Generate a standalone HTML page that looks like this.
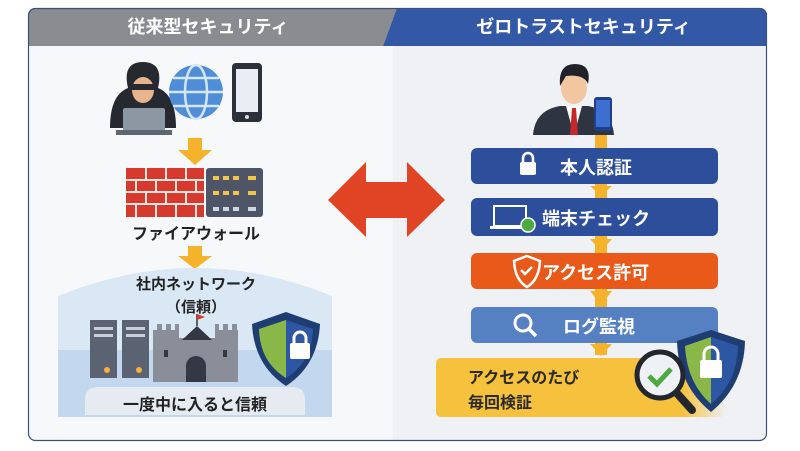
<!DOCTYPE html>
<html><head><meta charset="utf-8"><style>
body{margin:0;width:800px;height:451px;background:#fff;overflow:hidden;font-family:"Liberation Sans","Noto Sans CJK JP",sans-serif;}
.t{position:absolute;font-weight:bold;white-space:nowrap;}
</style></head><body>
<svg width="800" height="451" style="position:absolute;left:0;top:0">
<defs><clipPath id="c"><rect x="28" y="8" width="739" height="433" rx="7"/></clipPath>
<linearGradient id="yg" x1="0" x2="1"><stop offset="0" stop-color="#f6c13c"/><stop offset="0.85" stop-color="#f6c13c"/><stop offset="1" stop-color="#f6c13c" stop-opacity="0"/></linearGradient></defs>
<g clip-path="url(#c)">
<rect x="28" y="8" width="739" height="433" fill="#f7f8fa"/>
<rect x="393" y="46" width="374" height="395" fill="#eff1f5"/>
<polygon points="28,8 397,8 383,46 28,46" fill="#8b8c91"/>
<polygon points="397,8 767,8 767,46 383,46" fill="#3358a6"/>
</g>
<rect x="28.5" y="8.5" width="738" height="432" rx="7" fill="none" stroke="#3a4f7a" stroke-width="1.2"/>
<!-- hacker -->
<path d="M110,128 Q110,95 128,88 Q122,62 143,62 Q164,62 158,88 Q176,95 176,128Z" fill="#26292f"/>
<ellipse cx="143" cy="90" rx="11" ry="13" fill="#e8b48e"/>
<rect x="131" y="84" width="24" height="6" fill="#26292f"/>
<rect x="123" y="108" width="42" height="24" rx="2" fill="#8d96a3"/>
<rect x="116" y="130" width="56" height="5" fill="#5e6672"/>
<circle cx="196" cy="92" r="27" fill="#4f8ed6"/>
<g stroke="#d5e6f7" stroke-width="2.5" fill="none"><ellipse cx="196" cy="92" rx="11" ry="27"/><line x1="169" y1="92" x2="223" y2="92"/><path d="M173,78 H219 M173,106 H219"/></g>
<rect x="232" y="63" width="30" height="59" rx="4" fill="#2c3038"/>
<rect x="236" y="69" width="22" height="43" fill="#e9eef4"/>
<circle cx="247" cy="117" r="2" fill="#ddd"/>
<!-- arrows -->
<g fill="#f5b32c"><path d="M188,138h14v12h10l-17,15-17-15h10z"/><path d="M188,246h14v10h10l-17,13-17-13h10z"/></g>
<!-- wall -->
<rect x="126" y="168" width="78" height="49" fill="#d63a2e"/>
<g stroke="#f0e6e0" stroke-width="2"><path d="M126,180H204M126,192H204M126,204H204"/><path d="M146,168v12M166,168v12M186,168v12M136,180v12M156,180v12M176,180v12M196,180v12M146,192v12M166,192v12M186,192v12M136,204v13M156,204v13M176,204v13M196,204v13"/></g>
<rect x="206" y="168" width="57" height="49" rx="3" fill="#4e5566"/>
<g fill="#f2c44a"><rect x="213" y="176" width="6" height="4"/><rect x="223" y="176" width="6" height="4"/><rect x="233" y="176" width="6" height="4"/><rect x="248" y="176" width="8" height="4"/><rect x="213" y="191" width="6" height="4"/><rect x="223" y="191" width="6" height="4"/><rect x="233" y="191" width="6" height="4"/><rect x="248" y="191" width="8" height="4"/></g>
<g fill="#cfd6e2"><rect x="213" y="207" width="6" height="4"/><rect x="223" y="207" width="6" height="4"/><rect x="233" y="207" width="6" height="4"/><rect x="248" y="207" width="8" height="4"/></g>
<!-- network -->
<path d="M58,296 Q195,240 332,296 V410 Q332,417 325,417 H65 Q58,417 58,410Z" fill="#dae7f5"/>
<rect x="58" y="350" width="274" height="67" fill="#c3d7ee"/>
<path d="M85,415 V400 Q85,387 98,387 H292 Q305,387 305,400 V415Z" fill="#e6ebf2"/>
<rect x="90" y="320" width="27" height="58" fill="#5b6272"/><rect x="122" y="320" width="27" height="58" fill="#5b6272"/>
<g fill="#c9ced8"><rect x="94" y="327" width="19" height="3"/><rect x="94" y="334" width="19" height="3"/><rect x="126" y="327" width="19" height="3"/><rect x="126" y="334" width="19" height="3"/></g>
<circle cx="107" cy="370" r="3" fill="#f2b33b"/><circle cx="139" cy="370" r="3" fill="#f2b33b"/>
<!-- castle -->
<path d="M153,382V330h4v-6h5v6h4v-6h5v6h4v-6h4v14h36v-14h4v6h4v-6h5v6h4v-6h5v6h1v52z" fill="#8a8e98"/>
<path d="M182,340l15-14 15,14z" fill="#333844"/><line x1="197" y1="326" x2="197" y2="314" stroke="#333" stroke-width="1.5"/><path d="M197,314l8,3-8,3z" fill="#d63a2e"/>
<rect x="164" y="350" width="4" height="7" fill="#333844"/><rect x="223" y="350" width="4" height="7" fill="#333844"/>
<path d="M186,382v-16a10,10 0 0 1 20,0v16z" fill="#333844"/>
<path d="M286,312 L320,324 Q318,365 286,386 Q254,365 252,324Z" fill="#1e3d73"/>
<path d="M286,320 V378 Q260,362 259,329Z" fill="#8ab848"/><path d="M286,320 L313,329 Q312,362 286,378Z" fill="#2d56a3"/>
<rect x="290" y="343" width="20" height="16" rx="2" fill="#fff"/><path d="M294,343v-5a6,6 0 0 1 12,0v5" stroke="#fff" stroke-width="3" fill="none"/>
<!-- center arrow -->
<path d="M328,200 L366,162 V182 H407 V162 L445,200 L407,237 V218 H366 V237Z" fill="#e04424"/>
<!-- person -->
<path d="M533,135 Q535,110 560,106 H588 Q612,110 614,135Z" fill="#2f3540"/>
<path d="M566,106 l8,29 8,-29z" fill="#fff"/><path d="M572,108 h4 l2,27 h-8z" fill="#c7262a"/>
<ellipse cx="574" cy="88" rx="13" ry="16" fill="#f1c6a0"/>
<path d="M560,86 Q558,64 575,64 Q592,64 588,84 Q584,74 566,76Z" fill="#1f2228"/>
<rect x="594" y="97" width="18" height="34" rx="3" fill="#1f3f8a"/><rect x="596" y="100" width="14" height="27" fill="#3d6fd1"/>
<!-- right flow connectors -->
<rect x="595" y="135" width="12" height="220" fill="#f5b32c"/>
<g fill="#f5b32c"><path d="M590,186h22l-11,10z"/><path d="M590,239h22l-11,12z"/><path d="M590,291h22l-11,14z"/><path d="M590,344h22l-11,12z"/></g>
<rect x="471" y="148" width="247" height="36" rx="6" fill="#2d4f9b"/>
<rect x="471" y="198" width="247" height="38" rx="6" fill="#2d4f9b"/>
<rect x="471" y="253" width="247" height="36" rx="6" fill="#e8591a"/>
<rect x="471" y="307" width="247" height="36" rx="6" fill="#5580c2"/>
<rect x="436" y="358" width="290" height="59" rx="5" fill="url(#yg)"/>
<!-- icons -->
<rect x="520" y="162" width="16" height="13" rx="2" fill="#fff"/><path d="M523,162v-4a5,5 0 0 1 10,0v4" stroke="#fff" stroke-width="2.5" fill="none"/>
<rect x="494" y="206" width="32" height="20" fill="none" stroke="#fff" stroke-width="2"/><rect x="490" y="226" width="34" height="3" fill="#fff"/>
<circle cx="528" cy="225" r="7" fill="#4caa3e" stroke="#fff" stroke-width="1.5"/>
<path d="M527,256 L540,261 Q539,280 527,287 Q515,280 514,261Z" fill="none" stroke="#fff" stroke-width="2.5"/>
<path d="M521,270l4,4 7,-7" stroke="#fff" stroke-width="2.5" fill="none"/>
<circle cx="523" cy="323" r="8" fill="none" stroke="#fff" stroke-width="3"/><line x1="529" y1="329" x2="536" y2="336" stroke="#fff" stroke-width="3.5"/>
<!-- shield + magnifier -->
<path d="M711,330 L745,341 Q744,385 711,412 Q678,385 677,341Z" fill="#1e3d73"/>
<path d="M711,337 V404 Q687,383 685,346Z" fill="#8ab848"/><path d="M711,337 L738,346 Q737,383 711,404Z" fill="#2d56a3"/>
<rect x="700" y="360" width="22" height="18" rx="2" fill="#fff"/><path d="M704,360v-6a7,7 0 0 1 14,0v6" stroke="#fff" stroke-width="3" fill="none"/>
<line x1="674" y1="390" x2="692" y2="410" stroke="#22262d" stroke-width="8" stroke-linecap="round"/>
<circle cx="660" cy="375" r="23" fill="#eef2f6" stroke="#22262d" stroke-width="5"/>
<path d="M649,376l8,8 14,-15" stroke="#4caa3e" stroke-width="5" fill="none"/>
</svg>
<div class="t" style="left:28px;top:13px;width:360px;text-align:center;color:#fff;font-size:18px">従来型セキュリティ</div>
<div class="t" style="left:400px;top:13px;width:367px;text-align:center;color:#fff;font-size:18px">ゼロトラストセキュリティ</div>
<div class="t" style="left:96px;top:220px;width:200px;text-align:center;color:#222;font-size:16px">ファイアウォール</div>
<div class="t" style="left:96px;top:273px;width:200px;text-align:center;color:#222;font-size:15px">社内ネットワーク</div>
<div class="t" style="left:96px;top:296px;width:200px;text-align:center;color:#222;font-size:15px">（信頼）</div>
<div class="t" style="left:85px;top:391px;width:220px;text-align:center;color:#222;font-size:16px">一度中に入ると信頼</div>
<div class="t" style="left:560px;top:154px;color:#fff;font-size:18px">本人認証</div>
<div class="t" style="left:542px;top:205px;color:#fff;font-size:18px">端末チェック</div>
<div class="t" style="left:542px;top:259px;color:#fff;font-size:18px">アクセス許可</div>
<div class="t" style="left:563px;top:313px;color:#fff;font-size:18px">ログ監視</div>
<div class="t" style="left:468px;top:364px;color:#2a2a2a;font-size:16px">アクセスのたび</div>
<div class="t" style="left:468px;top:389px;color:#2a2a2a;font-size:16px">毎回検証</div>
</body></html>
